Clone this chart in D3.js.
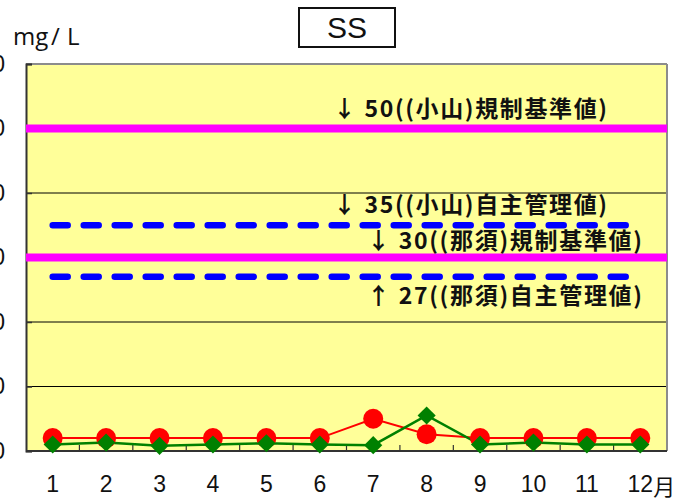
<!DOCTYPE html>
<html>
<head>
<meta charset="utf-8">
<script src="https://cdn.jsdelivr.net/npm/d3@7"></script>
<style>
  html, body { margin: 0; padding: 0; background: #fff; }
  svg { display: block; }
</style>
</head>
<body>
<svg id="chart" width="676" height="499"></svg>
<script>
// Monthly SS readings (mg/L)
const months = ["1", "2", "3", "4", "5", "6", "7", "8", "9", "10", "11", "12"];
const seriesRed = [2, 2, 2, 2, 2, 2, 5, 2.6, 2, 2, 2, 2];
const seriesGreen = [1, 1.3, 0.8, 1, 1.2, 1, 0.9, 5.5, 1, 1.3, 1, 1];
const yTicks = [0, 10, 20, 30, 40, 50, 60];

// Reference limits
const limitValues = [50, 35, 30, 27];
const limitKinds = ["solid", "dash", "solid", "dash"];
const limitLabels = [
  "↓ 50((小山)規制基準値)",
  "↓ 35((小山)自主管理値)",
  "↓ 30((那須)規制基準値)",
  "↑ 27((那須)自主管理値)"
];

const svg = d3.select("#chart");
const plot = { left: 26, right: 667, top: 64, bottom: 451 };

const x = d3.scaleBand().domain(months).range([plot.left, plot.right]).padding(0);
const y = d3.scaleLinear().domain([0, 60]).range([plot.bottom, plot.top]);
const cx = m => x(m) + x.bandwidth() / 2;

// Plot background
svg.append("rect")
  .attr("x", plot.left).attr("y", plot.top)
  .attr("width", plot.right - plot.left).attr("height", plot.bottom - plot.top)
  .attr("fill", "#ffff99");

// Horizontal grid
svg.append("g")
  .selectAll("line").data(yTicks.filter(d => d > 0 && d < 60)).join("line")
  .attr("x1", plot.left).attr("x2", plot.right)
  .attr("y1", d => y(d)).attr("y2", d => y(d))
  .attr("stroke", "#000").attr("stroke-width", 1);

// Frame: grey top/right, dark left/bottom
svg.append("line").attr("x1", plot.left).attr("x2", plot.right)
  .attr("y1", plot.top).attr("y2", plot.top).attr("stroke", "#8c8c8c").attr("stroke-width", 2);
svg.append("line").attr("x1", plot.right).attr("x2", plot.right)
  .attr("y1", plot.top).attr("y2", plot.bottom).attr("stroke", "#8c8c8c").attr("stroke-width", 2);

// Y axis (labels sit mostly past the left edge of the page)
const yAxis = d3.axisLeft(y).tickValues(yTicks).tickSize(-6).tickPadding(21);
const gy = svg.append("g").attr("transform", `translate(${plot.left},0)`).call(yAxis);
gy.select(".domain").attr("stroke", "#333").attr("stroke-width", 2);
gy.selectAll(".tick line").attr("stroke", "#333").attr("stroke-width", 1.5);
gy.selectAll(".tick text")
  .attr("font-family", "'Liberation Sans', Arial, sans-serif")
  .attr("font-size", 23).attr("fill", "#111");

// X axis with inward ticks at band edges
const gx = svg.append("g").attr("transform", `translate(0,${plot.bottom})`);
gx.append("line").attr("x1", plot.left).attr("x2", plot.right)
  .attr("y1", 0).attr("y2", 0).attr("stroke", "#333").attr("stroke-width", 2);
gx.selectAll("line.tk").data(months.slice(1)).join("line")
  .attr("class", "tk")
  .attr("x1", d => x(d)).attr("x2", d => x(d))
  .attr("y1", 0).attr("y2", -6)
  .attr("stroke", "#333").attr("stroke-width", 1.2);
gx.selectAll("text.lbl").data(months).join("text")
  .attr("class", "lbl")
  .attr("x", d => cx(d)).attr("y", 41)
  .attr("text-anchor", "middle")
  .attr("font-family", "'Liberation Sans', Arial, sans-serif")
  .attr("font-size", 23).attr("fill", "#111")
  .text(d => d);
gx.append("text")
  .attr("x", cx("12") + 13).attr("y", 44)
  .attr("font-family", "'Noto Sans CJK JP', sans-serif")
  .attr("font-size", 22).attr("fill", "#111")
  .text("月");

// Limit lines
limitValues.forEach((v, i) => {
  if (limitKinds[i] === "solid") {
    svg.append("line")
      .attr("x1", plot.left).attr("x2", plot.right)
      .attr("y1", y(v)).attr("y2", y(v))
      .attr("stroke", "#ff00ff").attr("stroke-width", 8);
  } else {
    svg.append("line")
      .attr("x1", cx("1")).attr("x2", cx("12"))
      .attr("y1", y(v)).attr("y2", y(v))
      .attr("stroke", "#0000ff").attr("stroke-width", 6.5)
      .attr("stroke-linecap", "round")
      .attr("stroke-dasharray", "15 16");
  }
});

// Limit labels
const labelPos = [
  { x: 333, dy: -12, w: 274 },
  { x: 333, dy: -12, w: 274 },
  { x: 367, dy: -9, w: 275 },
  { x: 367, dy: 27, w: 275 }
];
limitValues.forEach((v, i) => {
  svg.append("text")
    .attr("x", labelPos[i].x).attr("y", y(v) + labelPos[i].dy)
    .attr("font-family", "'Noto Sans CJK JP', sans-serif")
    .attr("font-weight", "bold")
    .attr("font-size", 23).attr("fill", "#111")
    .attr("textLength", labelPos[i].w)
    .attr("lengthAdjust", "spacing")
    .text(limitLabels[i]);
});

// Data lines
const line = d3.line().x((d, i) => cx(months[i])).y(d => y(d));
svg.append("path").datum(seriesRed).attr("d", line)
  .attr("fill", "none").attr("stroke", "#ff0000").attr("stroke-width", 2);
svg.append("path").datum(seriesGreen).attr("d", line)
  .attr("fill", "none").attr("stroke", "#008000").attr("stroke-width", 2.5);

// Markers
svg.append("g").selectAll("circle").data(seriesRed).join("circle")
  .attr("cx", (d, i) => cx(months[i])).attr("cy", d => y(d))
  .attr("r", 10).attr("fill", "#ff0000");
const diamond = d3.symbol().type(d3.symbolDiamond2).size(210);
svg.append("g").selectAll("path").data(seriesGreen).join("path")
  .attr("transform", (d, i) => `translate(${cx(months[i])},${y(d)})`)
  .attr("d", diamond).attr("fill", "#008000");

// Unit label
const unitFont = "'Open Sans', sans-serif";
svg.append("text").attr("x", 13).attr("y", 45)
  .attr("font-family", unitFont).attr("font-size", 24).attr("fill", "#111").text("mg");
svg.append("text").attr("x", 51).attr("y", 45)
  .attr("font-family", unitFont).attr("font-size", 24).attr("fill", "#111").text("/");
svg.append("text").attr("x", 67).attr("y", 45)
  .attr("font-family", unitFont).attr("font-size", 24).attr("fill", "#111").text("L");

// Title box
svg.append("rect").attr("x", 299).attr("y", 8).attr("width", 96).attr("height", 39)
  .attr("fill", "#fff").attr("stroke", "#111").attr("stroke-width", 2);
svg.append("text").attr("x", 347).attr("y", 38)
  .attr("text-anchor", "middle")
  .attr("font-family", "'Liberation Sans', Arial, sans-serif")
  .attr("font-size", 30).attr("fill", "#111")
  .text("SS");
</script>
</body>
</html>
